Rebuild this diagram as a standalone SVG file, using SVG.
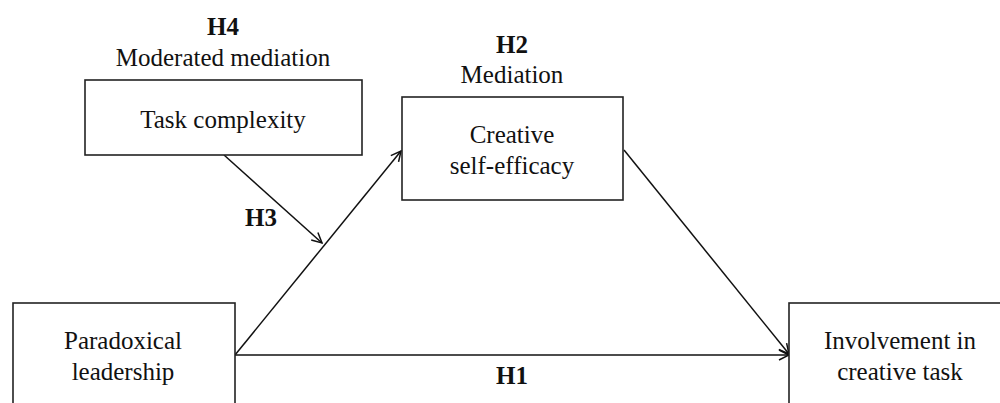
<svg xmlns="http://www.w3.org/2000/svg" width="1000" height="403" viewBox="0 0 1000 403">
<style>
.box{fill:#fff;stroke:#222;stroke-width:1.6}
.t{font-family:"Liberation Serif","Times New Roman",serif;font-size:25px;fill:#111;text-anchor:middle}
.b{font-weight:bold}
.c{stroke:#111;stroke-width:1.5;fill:none;marker-end:url(#ah)}
</style>
<defs>
<marker id="ah" viewBox="0 0 12 12" refX="11" refY="6" markerWidth="12" markerHeight="12" markerUnits="userSpaceOnUse" orient="auto">
<path d="M1,1 L11,6 L1,11" fill="none" stroke="#111" stroke-width="1.5"/>
</marker>
</defs>
<rect width="1000" height="403" fill="#fff"/>
<g id="connectors">
<line class="c" x1="235" y1="355" x2="401" y2="151"/>
<line class="c" x1="235" y1="355" x2="789" y2="355"/>
<line class="c" x1="624" y1="150" x2="789" y2="354"/>
<line class="c" x1="224" y1="155" x2="322" y2="243"/>
<text class="t b" x="261" y="226">H3</text>
<text class="t b" x="512" y="384">H1</text>
</g>
<g id="task-complexity">
<text class="t b" x="223" y="35">H4</text>
<text class="t" x="223" y="66">Moderated mediation</text>
<rect class="box" x="85" y="80" width="277" height="75"/>
<text class="t" x="223" y="128">Task complexity</text>
</g>
<g id="creative-self-efficacy">
<text class="t b" x="512" y="53">H2</text>
<text class="t" x="512" y="83">Mediation</text>
<rect class="box" x="402" y="97" width="221" height="103"/>
<text class="t" x="512" y="143">Creative</text>
<text class="t" x="512" y="174">self-efficacy</text>
</g>
<g id="paradoxical-leadership">
<rect class="box" x="13" y="303" width="222" height="120"/>
<text class="t" x="123" y="349">Paradoxical</text>
<text class="t" x="123" y="380">leadership</text>
</g>
<g id="involvement">
<rect class="box" x="789" y="303" width="230" height="120"/>
<text class="t" x="900" y="349">Involvement in</text>
<text class="t" x="900" y="380">creative task</text>
</g>
</svg>
